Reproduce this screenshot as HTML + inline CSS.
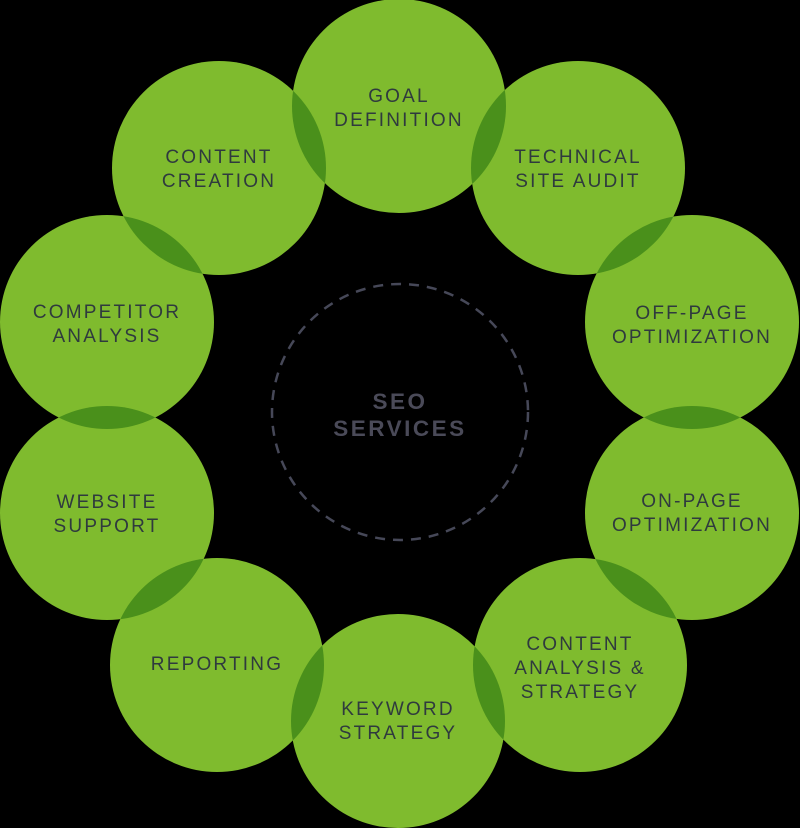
<!DOCTYPE html>
<html><head><meta charset="utf-8"><style>
html,body{margin:0;padding:0;background:#000;}
svg{display:block}
text{font-family:"Liberation Sans",sans-serif;}
</style></head><body>
<svg width="800" height="828" viewBox="0 0 800 828" xmlns="http://www.w3.org/2000/svg">
<defs>
<clipPath id="c0"><circle cx="399" cy="106" r="107"/></clipPath>
<clipPath id="c1"><circle cx="578" cy="168" r="107"/></clipPath>
<clipPath id="c2"><circle cx="692" cy="322" r="107"/></clipPath>
<clipPath id="c3"><circle cx="692" cy="513" r="107"/></clipPath>
<clipPath id="c4"><circle cx="580" cy="665" r="107"/></clipPath>
<clipPath id="c5"><circle cx="398" cy="721" r="107"/></clipPath>
<clipPath id="c6"><circle cx="217" cy="665" r="107"/></clipPath>
<clipPath id="c7"><circle cx="107" cy="513" r="107"/></clipPath>
<clipPath id="c8"><circle cx="107" cy="322" r="107"/></clipPath>
<clipPath id="c9"><circle cx="219" cy="168" r="107"/></clipPath>
</defs>
<rect width="800" height="828" fill="#000"/>
<g fill="#7fbb2e">
<circle cx="399" cy="106" r="107"/>
<circle cx="578" cy="168" r="107"/>
<circle cx="692" cy="322" r="107"/>
<circle cx="692" cy="513" r="107"/>
<circle cx="580" cy="665" r="107"/>
<circle cx="398" cy="721" r="107"/>
<circle cx="217" cy="665" r="107"/>
<circle cx="107" cy="513" r="107"/>
<circle cx="107" cy="322" r="107"/>
<circle cx="219" cy="168" r="107"/>
</g>
<g fill="#4a901b">
<circle cx="578" cy="168" r="107" clip-path="url(#c0)"/>
<circle cx="692" cy="322" r="107" clip-path="url(#c1)"/>
<circle cx="692" cy="513" r="107" clip-path="url(#c2)"/>
<circle cx="580" cy="665" r="107" clip-path="url(#c3)"/>
<circle cx="398" cy="721" r="107" clip-path="url(#c4)"/>
<circle cx="217" cy="665" r="107" clip-path="url(#c5)"/>
<circle cx="107" cy="513" r="107" clip-path="url(#c6)"/>
<circle cx="107" cy="322" r="107" clip-path="url(#c7)"/>
<circle cx="219" cy="168" r="107" clip-path="url(#c8)"/>
<circle cx="399" cy="106" r="107" clip-path="url(#c9)"/>
</g>
<circle cx="400" cy="412" r="128" fill="none" stroke="#464858" stroke-width="2.5" stroke-dasharray="10 8"/>
<g fill="#4a4a58" font-size="22.5" font-weight="bold" text-anchor="middle" letter-spacing="2.5">
<text x="400" y="409">SEO</text>
<text x="400" y="436">SERVICES</text>
</g>
<g fill="#2f3a3e" font-size="19" text-anchor="middle" letter-spacing="2.2">
<text x="399" y="102">GOAL</text><text x="399" y="126">DEFINITION</text>
<text x="578" y="163">TECHNICAL</text><text x="578" y="187">SITE AUDIT</text>
<text x="692" y="319">OFF-PAGE</text><text x="692" y="343">OPTIMIZATION</text>
<text x="692" y="507">ON-PAGE</text><text x="692" y="531">OPTIMIZATION</text>
<text x="580" y="650">CONTENT</text><text x="580" y="674">ANALYSIS &amp;</text><text x="580" y="698">STRATEGY</text>
<text x="398" y="715">KEYWORD</text><text x="398" y="739">STRATEGY</text>
<text x="217" y="670">REPORTING</text>
<text x="107" y="508">WEBSITE</text><text x="107" y="532">SUPPORT</text>
<text x="107" y="318">COMPETITOR</text><text x="107" y="342">ANALYSIS</text>
<text x="219" y="163">CONTENT</text><text x="219" y="187">CREATION</text>
</g>
</svg>
</body></html>
